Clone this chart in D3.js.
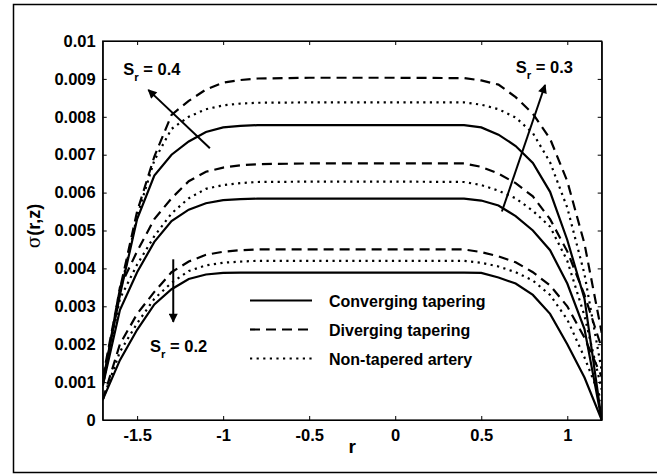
<!DOCTYPE html>
<html>
<head>
<meta charset="utf-8">
<script src="https://cdn.jsdelivr.net/npm/d3@7"></script>
<style>
  body { margin: 0; background: #fff; }
  svg text { font-family: "Liberation Sans", Arial, sans-serif; font-weight: bold; fill: #000; }
</style>
</head>
<body>
<div id="chart"></div>
<script>
// radial position r
const rValues = [-1.7, -1.6, -1.5, -1.4, -1.3, -1.2, -1.1, -1.0, -0.9, -0.8, -0.5, 0, 0.4, 0.5, 0.6, 0.7, 0.8, 0.9, 1.0, 1.1, 1.2];

// sigma(r,z) for Sr = 0.4
const conv04 = [0.0010, 0.0033, 0.0053, 0.00645, 0.0070, 0.00735, 0.0076, 0.00772, 0.00776, 0.00778, 0.00778, 0.00778, 0.00778, 0.00772, 0.00753, 0.00723, 0.00678, 0.00602, 0.00475, 0.0032, 0.0];
const div04 = [0.0011, 0.00345, 0.0055, 0.00695, 0.00805, 0.00842, 0.00872, 0.0089, 0.00897, 0.00901, 0.00903, 0.00903, 0.00902, 0.00896, 0.00885, 0.00852, 0.00808, 0.00742, 0.0063, 0.00465, 0.0023];
const non04 = [0.0010, 0.00335, 0.00538, 0.00685, 0.00768, 0.0080, 0.0082, 0.0083, 0.00835, 0.00837, 0.00838, 0.00838, 0.00838, 0.00832, 0.0082, 0.00798, 0.00757, 0.0068, 0.0056, 0.00385, 0.0013];

// Sr = 0.3
const conv03 = [0.0009, 0.0029, 0.0039, 0.0047, 0.00525, 0.00555, 0.00572, 0.0058, 0.00583, 0.00584, 0.00584, 0.00584, 0.00584, 0.00579, 0.00566, 0.00538, 0.0050, 0.00448, 0.0036, 0.0024, 0.0];
const div03 = [0.0009, 0.0035, 0.00445, 0.0053, 0.00585, 0.0063, 0.00655, 0.00666, 0.00672, 0.00675, 0.00677, 0.00677, 0.00677, 0.00668, 0.0065, 0.00625, 0.0059, 0.0053, 0.00445, 0.0033, 0.0019];
const non03 = [0.0009, 0.0032, 0.0041, 0.00485, 0.00545, 0.00585, 0.0061, 0.0062, 0.00625, 0.00628, 0.00629, 0.00629, 0.00628, 0.0062, 0.00605, 0.00585, 0.00552, 0.0051, 0.0042, 0.00275, 0.0008];

// Sr = 0.2
const conv02 = [0.00053, 0.00158, 0.00238, 0.00305, 0.00345, 0.00372, 0.00384, 0.00388, 0.00389, 0.00389, 0.00389, 0.00389, 0.00389, 0.00388, 0.00376, 0.0036, 0.0033, 0.0028, 0.0020, 0.00112, 0.0];
const div02 = [0.00053, 0.0020, 0.0028, 0.00338, 0.0039, 0.00418, 0.00436, 0.00444, 0.00448, 0.0045, 0.0045, 0.0045, 0.0045, 0.00443, 0.00432, 0.00416, 0.0039, 0.00355, 0.0030, 0.00217, 0.00114];
const non02 = [0.00053, 0.0018, 0.00255, 0.0032, 0.00362, 0.00393, 0.00408, 0.00415, 0.00418, 0.0042, 0.0042, 0.0042, 0.0042, 0.00415, 0.00405, 0.0039, 0.00368, 0.0033, 0.00265, 0.00165, 0.0005];

const xTicks = [-1.5, -1, -0.5, 0, 0.5, 1];
const xTickLabels = ["-1.5", "-1", "-0.5", "0", "0.5", "1"];
const yTicks = [0, 0.001, 0.002, 0.003, 0.004, 0.005, 0.006, 0.007, 0.008, 0.009, 0.01];
const yTickLabels = ["0", "0.001", "0.002", "0.003", "0.004", "0.005", "0.006", "0.007", "0.008", "0.009", "0.01"];

const legendLabels = ["Converging tapering", "Diverging tapering", "Non-tapered artery"];

const width = 657, height = 474;
const plotLeft = 102.7, plotRight = 601.7, plotTop = 41, plotBottom = 420;

const dashStyle = { solid: null, dashed: "10,6", dotted: "2.2,4.4" };

const series = [
  { values: conv04, style: "solid" }, { values: div04, style: "dashed" }, { values: non04, style: "dotted" },
  { values: conv03, style: "solid" }, { values: div03, style: "dashed" }, { values: non03, style: "dotted" },
  { values: conv02, style: "solid" }, { values: div02, style: "dashed" }, { values: non02, style: "dotted" }
];

const svg = d3.select("#chart").append("svg")
  .attr("width", width)
  .attr("height", height);

// outer frame
svg.append("rect")
  .attr("x", 13.5).attr("y", 4.5)
  .attr("width", 660).attr("height", 468)
  .attr("fill", "none")
  .attr("stroke", "#000")
  .attr("stroke-width", 1.5);

const x = d3.scaleLinear().domain([-1.7, 1.2]).range([plotLeft, plotRight]);
const y = d3.scaleLinear().domain([0, 0.01]).range([plotBottom, plotTop]);

svg.append("defs").append("clipPath").attr("id", "plotClip")
  .append("rect")
  .attr("x", plotLeft).attr("y", plotTop)
  .attr("width", plotRight - plotLeft).attr("height", plotBottom - plotTop);

// curves
const line = d3.line()
  .x((d, i) => x(rValues[i]))
  .y(d => y(d));

svg.append("g").attr("clip-path", "url(#plotClip)")
  .selectAll("path")
  .data(series)
  .join("path")
  .attr("d", d => line(d.values))
  .attr("fill", "none")
  .attr("stroke", "#000")
  .attr("stroke-width", 2.2)
  .attr("stroke-dasharray", d => dashStyle[d.style]);

// axes, ticks inward on all four sides
const fmtX = d => xTickLabels[xTicks.indexOf(d)];
const fmtY = d => yTickLabels[yTicks.indexOf(d)];

const gx = svg.append("g")
  .attr("transform", `translate(0,${plotBottom})`)
  .call(d3.axisBottom(x).tickValues(xTicks).tickFormat(fmtX).tickSizeInner(-4).tickSizeOuter(0).tickPadding(9));
gx.selectAll("text").attr("font-size", 16.5);

svg.append("g")
  .attr("transform", `translate(0,${plotTop})`)
  .call(d3.axisTop(x).tickValues(xTicks).tickFormat("").tickSizeInner(-4).tickSizeOuter(0));

const gy = svg.append("g")
  .attr("transform", `translate(${plotLeft},0)`)
  .call(d3.axisLeft(y).tickValues(yTicks).tickFormat(fmtY).tickSizeInner(-4).tickSizeOuter(0).tickPadding(7));
gy.selectAll("text").attr("font-size", 16.5);

svg.append("g")
  .attr("transform", `translate(${plotRight},0)`)
  .call(d3.axisRight(y).tickValues(yTicks).tickFormat("").tickSizeInner(-4).tickSizeOuter(0));

svg.selectAll(".domain").attr("stroke", "#000").attr("stroke-width", 1.2);
svg.selectAll(".tick line").attr("stroke", "#000");

// plot box
svg.append("rect")
  .attr("x", plotLeft).attr("y", plotTop)
  .attr("width", plotRight - plotLeft).attr("height", plotBottom - plotTop)
  .attr("fill", "none").attr("stroke", "#000").attr("stroke-width", 1.2);

// axis labels
svg.append("text")
  .attr("x", (plotLeft + plotRight) / 2).attr("y", 453)
  .attr("text-anchor", "middle")
  .attr("font-size", 19)
  .text("r");

const ylab = svg.append("text")
  .attr("transform", "translate(40,226) rotate(-90)")
  .attr("text-anchor", "middle")
  .attr("font-size", 18);
ylab.append("tspan").attr("font-weight", "normal").attr("font-family", "DejaVu Serif, serif").text("σ");
ylab.append("tspan").text("(r,z)");

// arrows
svg.append("defs").append("marker")
  .attr("id", "head")
  .attr("viewBox", "0 0 10 10")
  .attr("refX", 9).attr("refY", 5)
  .attr("markerWidth", 5.5).attr("markerHeight", 4.5)
  .attr("markerUnits", "strokeWidth")
  .attr("orient", "auto")
  .append("path").attr("d", "M0,0 L10,5 L0,10 z").attr("fill", "#000");

const arrows = [
  { from: [-1.077, 0.00717], to: [-1.435, 0.00871] },
  { from: [0.62, 0.0055], to: [0.871, 0.00884] },
  { from: [-1.29, 0.00424], to: [-1.29, 0.00259] }
];
svg.selectAll("line.arrow")
  .data(arrows)
  .join("line")
  .attr("class", "arrow")
  .attr("x1", d => x(d.from[0])).attr("y1", d => y(d.from[1]))
  .attr("x2", d => x(d.to[0])).attr("y2", d => y(d.to[1]))
  .attr("stroke", "#000").attr("stroke-width", 2)
  .attr("marker-end", "url(#head)");

// S_r labels
const srLabels = [
  { r: -1.581, v: 0.0091, text: "0.4" },
  { r: 0.70, v: 0.00916, text: "0.3" },
  { r: -1.425, v: 0.0018, text: "0.2" }
];
srLabels.forEach(d => {
  const t = svg.append("text")
    .attr("x", x(d.r)).attr("y", y(d.v))
    .attr("font-size", 16.5);
  t.append("tspan").text("S");
  t.append("tspan").attr("font-size", 11.5).attr("dy", 6).text("r");
  t.append("tspan").attr("dy", -6).text(" = " + d.text);
});

// legend
const legend = svg.append("g");
const legendRows = ["solid", "dashed", "dotted"];
legendRows.forEach((s, i) => {
  const ly = 300.5 + i * 29;
  legend.append("line")
    .attr("x1", 250).attr("x2", 312)
    .attr("y1", ly).attr("y2", ly)
    .attr("stroke", "#000").attr("stroke-width", 2.2)
    .attr("stroke-dasharray", dashStyle[s]);
  legend.append("text")
    .attr("x", 329).attr("y", ly + 6)
    .attr("font-size", 16)
    .text(legendLabels[i]);
});
</script>
</body>
</html>
